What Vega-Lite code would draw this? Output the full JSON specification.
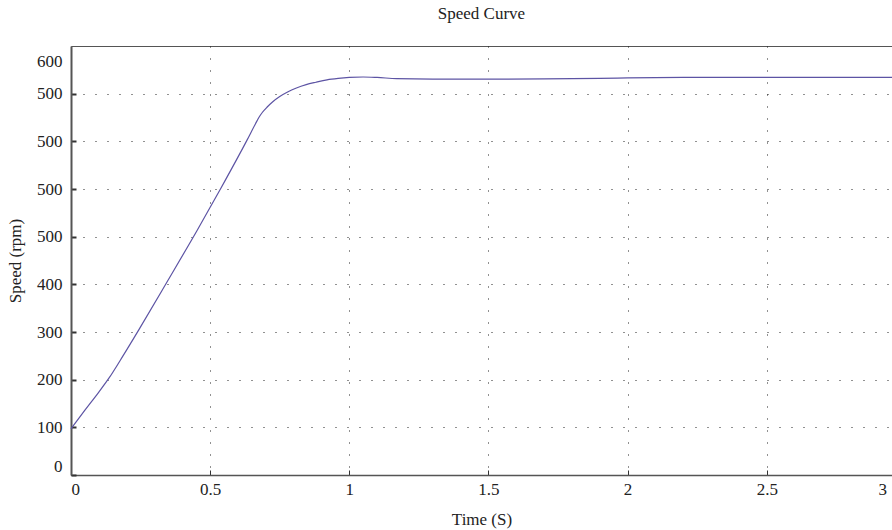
{
  "$schema": "https://vega.github.io/schema/vega-lite/v6.json",
  "width": 821,
  "height": 429,
  "autosize": {"type": "none"},
  "padding": {"left": 71, "top": 46, "right": 0, "bottom": 55},
  "background": "white",
  "title": {"text": "Speed Curve", "font": "Liberation Serif", "fontSize": 17, "fontWeight": "normal", "color": "#222", "offset": 23},
  "config": {
    "view": {"stroke": "#555", "strokeWidth": 1},
    "axis": {
      "labelFont": "Liberation Serif",
      "titleFont": "Liberation Serif",
      "labelFontSize": 17,
      "titleFontSize": 17,
      "titleFontWeight": "normal",
      "labelColor": "#222",
      "titleColor": "#222",
      "domainColor": "#555",
      "tickColor": "#333",
      "gridColor": "#222",
      "gridDash": [1, 11],
      "gridWidth": 1
    }
  },
  "data": {
    "values": [
      {"t": 0, "speed": 97},
      {"t": 0.05, "speed": 136},
      {"t": 0.1, "speed": 174},
      {"t": 0.135, "speed": 202},
      {"t": 0.189, "speed": 252},
      {"t": 0.243, "speed": 304},
      {"t": 0.348, "speed": 408},
      {"t": 0.453, "speed": 513},
      {"t": 0.537, "speed": 600},
      {"t": 0.632, "speed": 702},
      {"t": 0.663, "speed": 737},
      {"t": 0.675, "speed": 750},
      {"t": 0.688, "speed": 761},
      {"t": 0.705, "speed": 772},
      {"t": 0.725, "speed": 783},
      {"t": 0.75, "speed": 794},
      {"t": 0.78, "speed": 804},
      {"t": 0.81, "speed": 812},
      {"t": 0.845, "speed": 819},
      {"t": 0.88, "speed": 824},
      {"t": 0.92, "speed": 829},
      {"t": 0.96, "speed": 832},
      {"t": 1.0, "speed": 834},
      {"t": 1.05, "speed": 835},
      {"t": 1.1, "speed": 834},
      {"t": 1.17, "speed": 831.5},
      {"t": 1.3, "speed": 830.5},
      {"t": 1.49, "speed": 830.5},
      {"t": 1.7, "speed": 831},
      {"t": 1.9, "speed": 832},
      {"t": 2.0, "speed": 833},
      {"t": 2.2, "speed": 834},
      {"t": 2.5, "speed": 834},
      {"t": 2.95, "speed": 834}
    ]
  },
  "mark": {"type": "line", "color": "#5d54a4", "strokeWidth": 1.2, "interpolate": "monotone"},
  "encoding": {
    "x": {
      "field": "t",
      "type": "quantitative",
      "scale": {"domain": [0, 2.95], "nice": false, "zero": false},
      "axis": {
        "title": "Time (S)",
        "values": [0, 0.5, 1, 1.5, 2, 2.5, 2.915],
        "labelExpr": "datum.value > 2.8 ? '3' : format(datum.value, '')",
        "tickSize": -5,
        "labelPadding": 11,
        "titlePadding": 14,
        "domainWidth": 1.5,
        "gridOpacity": {"condition": {"test": "datum.value > 2.8 || datum.value == 0", "value": 0}, "value": 1},
        "tickOpacity": {"condition": {"test": "datum.value > 2.8", "value": 0}, "value": 1}
      }
    },
    "y": {
      "field": "speed",
      "type": "quantitative",
      "scale": {"domain": [0, 900], "nice": false},
      "axis": {
        "title": "Speed (rpm)",
        "values": [0, 100, 200, 300, 400, 500, 600, 700, 800, 867],
        "labelExpr": "datum.value > 850 ? '600' : datum.value >= 500 ? '500' : format(datum.value, '')",
        "labelFlush": true,
        "tickSize": -5,
        "tickWidth": 2,
        "labelPadding": 14,
        "titlePadding": 12,
        "domainWidth": 2,
        "gridOpacity": {"condition": {"test": "datum.value > 850 || datum.value == 0", "value": 0}, "value": 1},
        "tickOpacity": {"condition": {"test": "datum.value > 850", "value": 0}, "value": 1}
      }
    }
  }
}
